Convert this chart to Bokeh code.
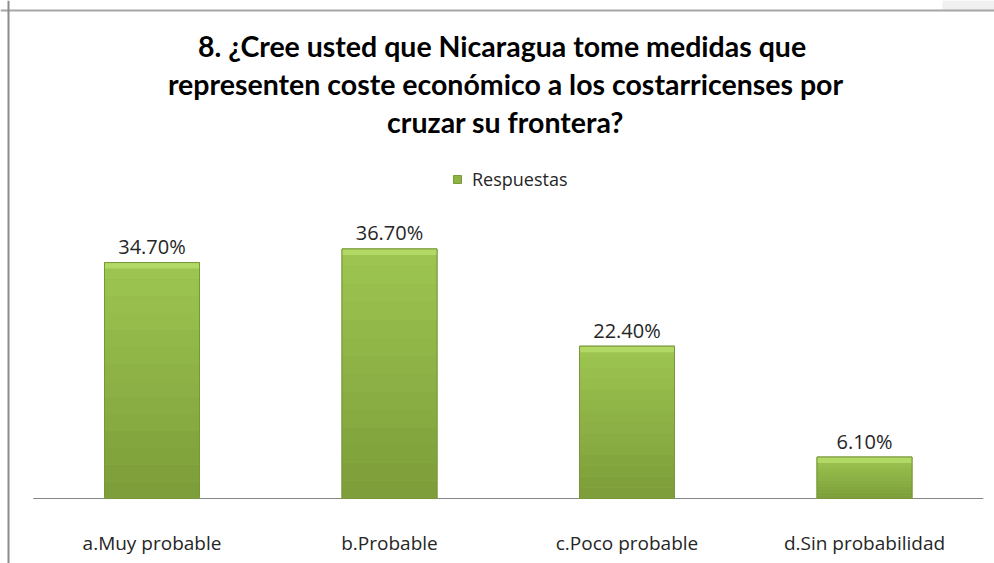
from bokeh.plotting import figure
from bokeh.models import Range1d, Span, Legend, LegendItem, ColumnDataSource
from bokeh.core.properties import value
from bokeh.embed import file_html
from bokeh.resources import INLINE

# ---- data ----
categories = ["a.Muy probable", "b.Probable", "c.Poco probable", "d.Sin probabilidad"]
respuestas = [34.7, 36.7, 22.4, 6.1]
value_labels = ["34.70%", "36.70%", "22.40%", "6.10%"]
series_name = "Respuestas"
title_lines = [
    "8. ¿Cree usted que Nicaragua  tome medidas que",
    "representen coste económico a los costarricenses por",
    "cruzar su frontera?",
]

# ---- layout constants (canvas pixels) ----
W, H = 994, 563
PX_PER_CAT = 237.5
PX_PER_PCT = 6.8
CAT0_PX = 32.75      # left end of category axis
BASE_PX = 498        # baseline, from top

x_start = -CAT0_PX / PX_PER_CAT
x_end = (W - CAT0_PX) / PX_PER_CAT
y_start = -(H - BASE_PX) / PX_PER_PCT
y_end = BASE_PX / PX_PER_PCT


def px_x(px):
    return (px - CAT0_PX) / PX_PER_CAT


def px_y(py):
    return (BASE_PX - py) / PX_PER_PCT


p = figure(width=W, height=H,
           x_range=Range1d(x_start, x_end), y_range=Range1d(y_start, y_end),
           x_axis_type=None, y_axis_type=None,
           output_backend="svg", toolbar_location=None, min_border=0)
p.outline_line_color = None
p.background_fill_color = "white"
p.border_fill_color = "white"

xs = [i + 0.5 for i in range(len(categories))]
src = ColumnDataSource(dict(x=xs, top=respuestas, cat=categories, lab=value_labels))

FONT = value("Open Sans")
BAR_W = 0.4

# light grey corner box (top right) and border lines
p.quad(left=[px_x(942)], right=[px_x(994)], top=[px_y(0)], bottom=[px_y(10)],
       fill_color="#F0F0F0", line_color=None)
p.add_layout(Span(location=px_y(10), dimension="width",
                  line_color="#A6A6A6", line_width=2))
p.add_layout(Span(location=px_x(8), dimension="height",
                  line_color="#8C8C8C", line_width=2))

# baseline
p.segment(x0=0, x1=len(categories), y0=0, y1=0, line_color="#868686", line_width=1.2)

# bars: base glyph (used by legend)
bars = p.vbar(x="x", top="top", bottom=0, width=BAR_W, source=src,
              fill_color="#8DB443", line_color="#7A9A3A", line_width=1)

# vertical shading bands (style only), computed from each bar's value
N = 14
c_bot = (0x7C, 0x9C, 0x39)
c_top = (0x9E, 0xC6, 0x52)
for k in range(N):
    t = (k + 0.5) / N
    col = "#%02X%02X%02X" % tuple(int(round(c_bot[i] + (c_top[i] - c_bot[i]) * t)) for i in range(3))
    p.vbar(x=xs, bottom=[v * k / N for v in respuestas],
           top=[v * (k + 1) / N for v in respuestas],
           width=BAR_W, fill_color=col, line_color=None)

# top bevel highlight
bevel = 6 / PX_PER_PCT
p.vbar(x=xs, bottom=[v - bevel for v in respuestas], top=respuestas,
       width=BAR_W, fill_color="#B2D966", line_color=None)
# outline
p.vbar(x="x", top="top", bottom=0, width=BAR_W, source=src,
       fill_color=None, line_color="#789838", line_width=1)

# value labels
p.text(x="x", y="top", text="lab", source=src, text_align="center",
       text_baseline="alphabetic", y_offset=-16, text_font=FONT,
       text_font_size="20px", text_color="#262626")

# category labels
p.text(x="x", y=0, text="cat", source=src, text_align="center",
       text_baseline="alphabetic", y_offset=44, text_font=FONT,
       text_font_size="19px", text_color="#262626")

# title
title_center = px_x(505)
title_baselines = [45, 83, 121]
p.text(x=[title_center] * len(title_lines), y=[px_y(b) for b in title_baselines],
       text=title_lines, text_align="center", text_baseline="alphabetic",
       text_font=value("Lato"), text_font_style="bold", text_font_size="28.5px",
       text_color="#000000")

legend = Legend(items=[LegendItem(label=series_name, renderers=[bars])],
                location=(452, 372), glyph_width=10, glyph_height=10,
                padding=0, margin=0, label_standoff=10, spacing=0,
                border_line_color=None, background_fill_alpha=0,
                label_text_font="Open Sans", label_text_font_size="18px",
                label_text_color="#262626")
p.add_layout(legend)

open("out.html", "w").write(file_html(p, INLINE))
